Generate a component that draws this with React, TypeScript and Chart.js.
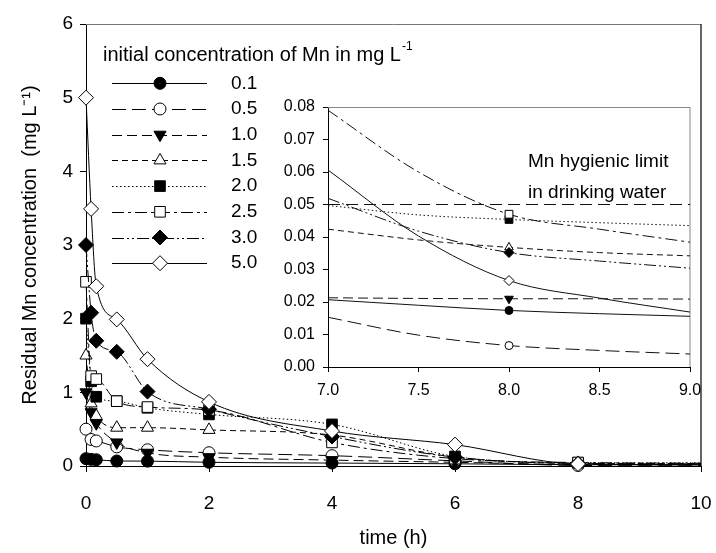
import React, { useEffect, useRef } from 'react';
import { Chart, registerables } from 'chart.js';
import { drawPoint } from 'chart.js/helpers';

Chart.register(...registerables);

const FONT = '"Liberation Sans", Arial, Helvetica, sans-serif';

// ---------- main chart data ----------
const timeH = [0, 0.083, 0.167, 0.5, 1, 2, 4, 6, 8, 10];
const mn01 = [0.1, 0.09, 0.085, 0.068, 0.066, 0.05, 0.04, 0.03, 0.017, 0.015];
const mn05 = [0.5, 0.36, 0.34, 0.26, 0.22, 0.18, 0.14, 0.07, 0.007, 0.004];
const mn10 = [1.0, 0.73, 0.58, 0.32, 0.18, 0.12, 0.08, 0.05, 0.021, 0.021];
const mn15 = [1.5, 0.85, 0.68, 0.52, 0.52, 0.49, 0.42, 0.12, 0.037, 0.034];
const mn20 = [2.0, 1.15, 0.94, 0.88, 0.79, 0.7, 0.565, 0.13, 0.045, 0.043];
const mn25 = [2.5, 1.22, 1.18, 0.88, 0.8, 0.76, 0.32, 0.1, 0.047, 0.038];
const mn30 = [3.0, 2.08, 1.7, 1.55, 1.01, 0.77, 0.4, 0.12, 0.035, 0.03];
const mn50 = [5.0, 3.49, 2.44, 1.99, 1.45, 0.87, 0.475, 0.29, 0.027, 0.017];
const seriesLabels = ['0.1', '0.5', '1.0', '1.5', '2.0', '2.5', '3.0', '5.0'];
const mainXTicks = [0, 2, 4, 6, 8, 10];
const mainYTicks = [0, 1, 2, 3, 4, 5, 6];

// ---------- inset data ----------
const insetTime = [7, 7.5, 8, 8.5, 9];
const in01 = [0.0207, 0.019, 0.0174, 0.0164, 0.0156];
const in05 = [0.0153, 0.0098, 0.0066, 0.0051, 0.004];
const in10 = [0.0213, 0.0211, 0.021, 0.021, 0.0209];
const in15 = [0.0424, 0.0391, 0.0368, 0.0352, 0.0342];
const in20 = [0.0497, 0.0468, 0.0454, 0.0444, 0.0435];
const in25 = [0.079, 0.06, 0.047, 0.0424, 0.0384];
const in30 = [0.0519, 0.0418, 0.0352, 0.0326, 0.0304];
const in50 = [0.0606, 0.0403, 0.0266, 0.0212, 0.0169];
const hygienicLimit = 0.05;
const insetMarkerTime = 8;
const insetXTicks = [7, 7.5, 8, 8.5, 9];
const insetYTicks = [0, 0.01, 0.02, 0.03, 0.04, 0.05, 0.06, 0.07, 0.08];

const mainSeries = [mn01, mn05, mn10, mn15, mn20, mn25, mn30, mn50];
const insetSeries = [in01, in05, in10, in15, in20, in25, in30, in50];

type Sty = { dash: number[]; point: string; fill: boolean; rotation: number; r: number; ri: number };
const styles: Sty[] = [
  { dash: [], point: 'circle', fill: true, rotation: 0, r: 6, ri: 4 },
  { dash: [14, 6], point: 'circle', fill: false, rotation: 0, r: 6, ri: 4 },
  { dash: [10, 5], point: 'triangle', fill: true, rotation: 180, r: 7, ri: 5 },
  { dash: [6, 4], point: 'triangle', fill: false, rotation: 0, r: 7, ri: 5 },
  { dash: [1.5, 2.5], point: 'rect', fill: true, rotation: 0, r: 7.5, ri: 5.5 },
  { dash: [12, 4, 3, 4], point: 'rect', fill: false, rotation: 0, r: 7.5, ri: 5.5 },
  { dash: [12, 3, 2, 3, 2, 3], point: 'rectRot', fill: true, rotation: 0, r: 7.5, ri: 5 },
  { dash: [], point: 'rectRot', fill: false, rotation: 0, r: 7.5, ri: 5 },
];

const framePlugin = (topColor: string, rightColor: string, rightWidth: number) => ({
  id: 'frame',
  beforeDatasetsDraw(chart: any) {
    const { ctx, chartArea: a } = chart;
    ctx.save();
    ctx.setLineDash([]);
    ctx.strokeStyle = topColor;
    ctx.lineWidth = 1;
    ctx.beginPath();
    ctx.moveTo(a.left, a.top + 0.5);
    ctx.lineTo(a.right, a.top + 0.5);
    ctx.stroke();
    ctx.strokeStyle = rightColor;
    ctx.lineWidth = rightWidth;
    ctx.beginPath();
    ctx.moveTo(a.right, a.top);
    ctx.lineTo(a.right, a.bottom);
    ctx.stroke();
    ctx.restore();
  },
});

const legendPlugin = {
  id: 'customLegend',
  afterDraw(chart: any) {
    const ctx: CanvasRenderingContext2D = chart.ctx;
    ctx.save();
    ctx.fillStyle = '#000';
    ctx.textBaseline = 'middle';
    ctx.textAlign = 'left';
    ctx.font = `20px ${FONT}`;
    const title = 'initial concentration of Mn in mg L';
    ctx.fillText(title, 103, 55);
    const w = ctx.measureText(title).width;
    ctx.font = `12px ${FONT}`;
    ctx.fillText('-1', 103 + w + 1, 47);
    const y0 = 83.3;
    const dy = 25.7;
    seriesLabels.forEach((lab, i) => {
      const s = styles[i];
      const y = y0 + i * dy;
      ctx.strokeStyle = '#000';
      ctx.lineWidth = 1;
      ctx.setLineDash(s.dash);
      ctx.beginPath();
      ctx.moveTo(112, Math.round(y) + 0.5);
      ctx.lineTo(207, Math.round(y) + 0.5);
      ctx.stroke();
      ctx.setLineDash([]);
      ctx.fillStyle = s.fill ? '#000' : '#fff';
      drawPoint(ctx, { pointStyle: s.point as any, rotation: s.rotation, radius: s.r, borderWidth: 1 }, 160, y);
      ctx.fillStyle = '#000';
      ctx.font = `19px ${FONT}`;
      ctx.fillText(lab, 231, y);
    });
    ctx.restore();
  },
};

const insetTextPlugin = {
  id: 'insetText',
  afterDraw(chart: any) {
    const ctx: CanvasRenderingContext2D = chart.ctx;
    ctx.save();
    ctx.fillStyle = '#000';
    ctx.font = `19px ${FONT}`;
    ctx.textBaseline = 'middle';
    ctx.textAlign = 'left';
    ctx.fillText('Mn hygienic limit', 258, 72);
    ctx.fillText('in drinking water', 258, 103);
    ctx.restore();
  },
};

const fixX = (h: number) => (sc: any) => {
  sc.height = h;
  sc.paddingLeft = 0;
  sc.paddingRight = 0;
  sc.paddingTop = 0;
  sc.paddingBottom = 0;
};
const fixY = (w: number) => (sc: any) => {
  sc.width = w;
  sc.paddingLeft = 0;
  sc.paddingRight = 0;
  sc.paddingTop = 0;
  sc.paddingBottom = 0;
};

export default function App() {
  const mainRef = useRef<HTMLCanvasElement>(null);
  const insetRef = useRef<HTMLCanvasElement>(null);

  useEffect(() => {
    document.body.style.margin = '0';
    Chart.defaults.font.family = FONT;
    Chart.defaults.color = '#000';

    const mainDatasets = mainSeries.map((vals, i) => {
      const s = styles[i];
      return {
        label: seriesLabels[i],
        data: timeH.map((t, k) => ({ x: t, y: vals[k] })),
        borderColor: '#000',
        borderWidth: 1,
        borderDash: s.dash,
        backgroundColor: s.fill ? '#000' : '#fff',
        pointBackgroundColor: s.fill ? '#000' : '#fff',
        pointBorderColor: '#000',
        pointBorderWidth: 1,
        pointStyle: s.point,
        pointRotation: s.rotation,
        pointRadius: timeH.map((t) => (t === 10 ? 0 : s.r)),
        cubicInterpolationMode: 'monotone',
        fill: false,
        clip: false,
        order: 8 - i,
      };
    });

    const main = new Chart(mainRef.current!, {
      type: 'line',
      data: { datasets: mainDatasets as any },
      options: {
        responsive: false,
        animation: false,
        events: [],
        layout: { padding: { top: 24, right: 15, left: 0, bottom: 0 } },
        plugins: { legend: { display: false }, tooltip: { enabled: false } },
        scales: {
          x: {
            type: 'linear',
            min: 0,
            max: 10,
            afterBuildTicks: (sc: any) => {
              sc.ticks = mainXTicks.map((v) => ({ value: v }));
            },
            afterFit: fixX(87),
            ticks: { font: { size: 19 }, padding: 20, color: '#000', maxRotation: 0 },
            grid: { drawOnChartArea: false, drawTicks: true, tickLength: 6, color: '#000' },
            border: { color: '#000', width: 1 },
            title: { display: true, text: 'time (h)', font: { size: 20 }, padding: { top: 0, bottom: 3 }, color: '#000' },
          },
          y: {
            type: 'linear',
            min: 0,
            max: 6,
            afterBuildTicks: (sc: any) => {
              sc.ticks = mainYTicks.map((v) => ({ value: v }));
            },
            afterFit: fixY(86),
            ticks: { font: { size: 19 }, padding: 7, color: '#000' },
            grid: { drawOnChartArea: false, drawTicks: true, tickLength: 6, color: '#000' },
            border: { color: '#000', width: 1 },
            title: {
              display: true,
              text: 'Residual Mn concentration  (mg L\u207B\u00B9)',
              font: { size: 20 },
              padding: { top: 18, bottom: 0 },
              color: '#000',
            },
          },
        },
      },
      plugins: [framePlugin('#777', '#333', 1.5), legendPlugin],
    });

    const insetDatasets: any[] = insetSeries.map((vals, i) => {
      const s = styles[i];
      return {
        label: seriesLabels[i],
        data: insetTime.map((t, k) => ({ x: t, y: vals[k] })),
        borderColor: '#111',
        borderWidth: 1,
        borderDash: s.dash,
        backgroundColor: s.fill ? '#000' : '#fff',
        pointBackgroundColor: s.fill ? '#000' : '#fff',
        pointBorderColor: '#000',
        pointBorderWidth: 1,
        pointStyle: s.point,
        pointRotation: s.rotation,
        pointRadius: insetTime.map((t) => (t === insetMarkerTime ? s.ri : 0)),
        cubicInterpolationMode: 'monotone',
        fill: false,
        clip: false,
        order: 8 - i,
      };
    });
    insetDatasets.push({
      label: 'limit',
      data: [
        { x: insetTime[0], y: hygienicLimit },
        { x: insetTime[insetTime.length - 1], y: hygienicLimit },
      ],
      borderColor: '#111',
      borderWidth: 1,
      borderDash: [12, 6],
      pointRadius: 0,
      fill: false,
      clip: false,
      order: 10,
    });

    const inset = new Chart(insetRef.current!, {
      type: 'line',
      data: { datasets: insetDatasets },
      options: {
        responsive: false,
        animation: false,
        events: [],
        layout: { padding: { top: 17, right: 20, left: 0, bottom: 0 } },
        plugins: { legend: { display: false }, tooltip: { enabled: false } },
        scales: {
          x: {
            type: 'linear',
            min: 7,
            max: 9,
            afterBuildTicks: (sc: any) => {
              sc.ticks = insetXTicks.map((v) => ({ value: v }));
            },
            afterFit: fixX(43),
            ticks: { font: { size: 16 }, padding: 9, color: '#000', maxRotation: 0, callback: (v: any) => Number(v).toFixed(1) },
            grid: { drawOnChartArea: false, drawTicks: true, tickLength: 5, color: '#000' },
            border: { color: '#000', width: 1 },
          },
          y: {
            type: 'linear',
            min: 0,
            max: 0.08,
            afterBuildTicks: (sc: any) => {
              sc.ticks = insetYTicks.map((v) => ({ value: v }));
            },
            afterFit: fixY(58),
            ticks: { font: { size: 16 }, padding: 8, color: '#000', callback: (v: any) => Number(v).toFixed(2) },
            grid: { drawOnChartArea: false, drawTicks: true, tickLength: 5, color: '#000' },
            border: { color: '#000', width: 1 },
          },
        },
      },
      plugins: [framePlugin('#888', '#888', 1), insetTextPlugin],
    });

    return () => {
      main.destroy();
      inset.destroy();
    };
  }, []);

  return (
    <div style={{ position: 'relative', width: 716, height: 553 }}>
      <canvas ref={mainRef} width={716} height={553} style={{ position: 'absolute', left: 0, top: 0, width: 716, height: 553 }} />
      <canvas ref={insetRef} width={440} height={320} style={{ position: 'absolute', left: 270, top: 90, width: 440, height: 320 }} />
    </div>
  );
}
